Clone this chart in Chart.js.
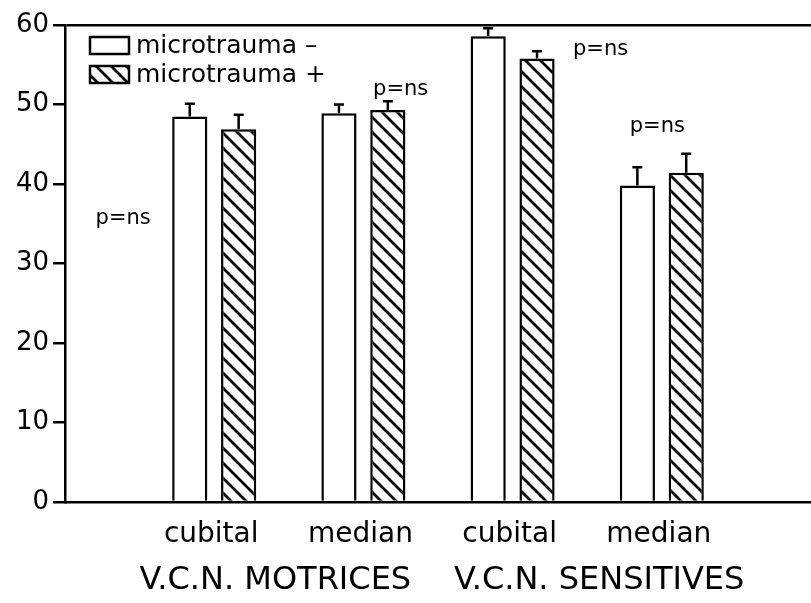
<!DOCTYPE html>
<html>
<head>
<meta charset="utf-8">
<script src="https://cdn.jsdelivr.net/npm/chart.js@4.4.1/dist/chart.umd.min.js"></script>
<style>
  html, body { margin: 0; padding: 0; background: #fff; }
  #wrap { width: 811px; height: 603px; }
</style>
</head>
<body>
<div id="wrap"><canvas id="c" width="811" height="603"></canvas></div>
<script>
// données
const categories = ["cubital", "median", "cubital", "median"];
const groups = ["V.C.N. MOTRICES", "V.C.N. SENSITIVES"];
const minusValues = [48.5, 48.9, 58.6, 39.8];
const minusErr = [1.6, 1.1, 1.0, 2.3];
const plusValues = [46.9, 49.3, 55.8, 41.4];
const plusErr = [1.8, 1.1, 0.9, 2.4];
const yTicks = [0, 10, 20, 30, 40, 50, 60];
const pLabels = ["p=ns", "p=ns", "p=ns", "p=ns"];
const pX = [0.39, 2.25, 3.59, 3.97];
const pY = [35.7, 51.9, 56.9, 47.2];

const FONT = "'DejaVu Sans', Verdana, sans-serif";

// motif hachuré "\\\"
function makeHatch(ctx) {
  const s = 15;
  const c = document.createElement("canvas");
  c.width = s; c.height = s;
  const g = c.getContext("2d");
  g.fillStyle = "#fff";
  g.fillRect(0, 0, s, s);
  g.strokeStyle = "#000";
  g.lineWidth = 2.8;
  g.beginPath();
  g.moveTo(-3, -3); g.lineTo(s + 3, s + 3);
  g.moveTo(-3, s - 3); g.lineTo(3, s + 3);
  g.moveTo(s - 3, -3); g.lineTo(s + 3, 3);
  g.stroke();
  return ctx.createPattern(c, "repeat");
}

const canvas = document.getElementById("c");
const ctx = canvas.getContext("2d");
const hatch = makeHatch(ctx);

const toPoints = vals => vals.map((v, i) => ({ x: i + 1, y: v }));

const errorBars = {
  id: "errorBars",
  afterDatasetsDraw(chart) {
    const g = chart.ctx;
    const ys = chart.scales.y;
    chart.data.datasets.forEach((ds, di) => {
      const meta = chart.getDatasetMeta(di);
      meta.data.forEach((bar, i) => {
        const top = ys.getPixelForValue(ds.data[i].y + ds.err[i]);
        g.save();
        g.strokeStyle = "#000";
        g.lineWidth = 2.5;
        g.beginPath();
        g.moveTo(bar.x, bar.y);
        g.lineTo(bar.x, top);
        g.moveTo(bar.x - 5, top);
        g.lineTo(bar.x + 5, top);
        g.stroke();
        g.restore();
      });
    });
  }
};

const annotations = {
  id: "annotations",
  afterDraw(chart) {
    const g = chart.ctx;
    const xs = chart.scales.x, ys = chart.scales.y;
    const a = chart.chartArea;
    g.save();
    g.fillStyle = "#000";
    g.textBaseline = "middle";
    // p=ns
    g.font = "21px " + FONT;
    g.textAlign = "center";
    pLabels.forEach((t, i) => {
      g.fillText(t, xs.getPixelForValue(pX[i]), ys.getPixelForValue(pY[i]));
    });
    // groupes
    g.font = "32px " + FONT;
    const gx = [1.41, 3.58];
    groups.forEach((t, i) => {
      g.fillText(t, xs.getPixelForValue(gx[i]), 581);
    });
    // légende
    g.font = "25px " + FONT;
    g.textAlign = "left";
    chart.data.datasets.forEach((ds, i) => {
      const bx = a.left + 25, by = a.top + 12 + i * 29;
      g.fillStyle = ds.backgroundColor;
      g.fillRect(bx, by, 39, 17);
      g.strokeStyle = "#000";
      g.lineWidth = 2.5;
      g.strokeRect(bx, by, 39, 17);
      g.fillStyle = "#000";
      g.fillText(ds.label, bx + 46, by + 9);
    });
    g.restore();
  }
};

new Chart(ctx, {
  type: "bar",
  data: {
    datasets: [
      {
        label: "microtrauma –",
        data: toPoints(minusValues),
        err: minusErr,
        backgroundColor: "#fff",
        borderColor: "#000",
        borderWidth: 2.5
      },
      {
        label: "microtrauma +",
        data: toPoints(plusValues),
        err: plusErr,
        backgroundColor: hatch,
        borderColor: "#000",
        borderWidth: 2.5
      }
    ]
  },
  options: {
    responsive: false,
    animation: false,
    categoryPercentage: 0.655,
    barPercentage: 0.72,
    layout: { padding: { top: 25, right: 0, left: 0, bottom: 0 } },
    plugins: { legend: { display: false }, tooltip: { enabled: false } },
    scales: {
      x: {
        type: "linear",
        offset: false,
        min: 0,
        max: 5,
        afterFit(s) { s.height = 101; s.paddingLeft = 0; s.paddingRight = 0; },
        grid: { display: false, drawTicks: false },
        border: { display: true, color: "#000", width: 2.5 },
        ticks: {
          stepSize: 1,
          autoSkip: false,
          maxRotation: 0,
          padding: 16,
          labelOffset: -3,
          color: "#000",
          font: { family: FONT, size: 28 },
          callback: v => categories[v - 1] || ""
        }
      },
      y: {
        min: 0,
        max: 60,
        afterFit(s) { s.width = 65; },
        afterBuildTicks(s) { s.ticks = yTicks.map(v => ({ value: v })); },
        grid: {
          color: c => (c.tick && c.tick.value === 60 ? "#000" : "rgba(0,0,0,0)"),
          tickColor: "#000",
          lineWidth: 2.5,
          tickLength: 12
        },
        border: { display: true, color: "#000", width: 2.5 },
        ticks: {
          padding: 4,
          color: "#000",
          font: { family: FONT, size: 26 }
        }
      }
    }
  },
  plugins: [errorBars, annotations]
});
</script>
</body>
</html>
